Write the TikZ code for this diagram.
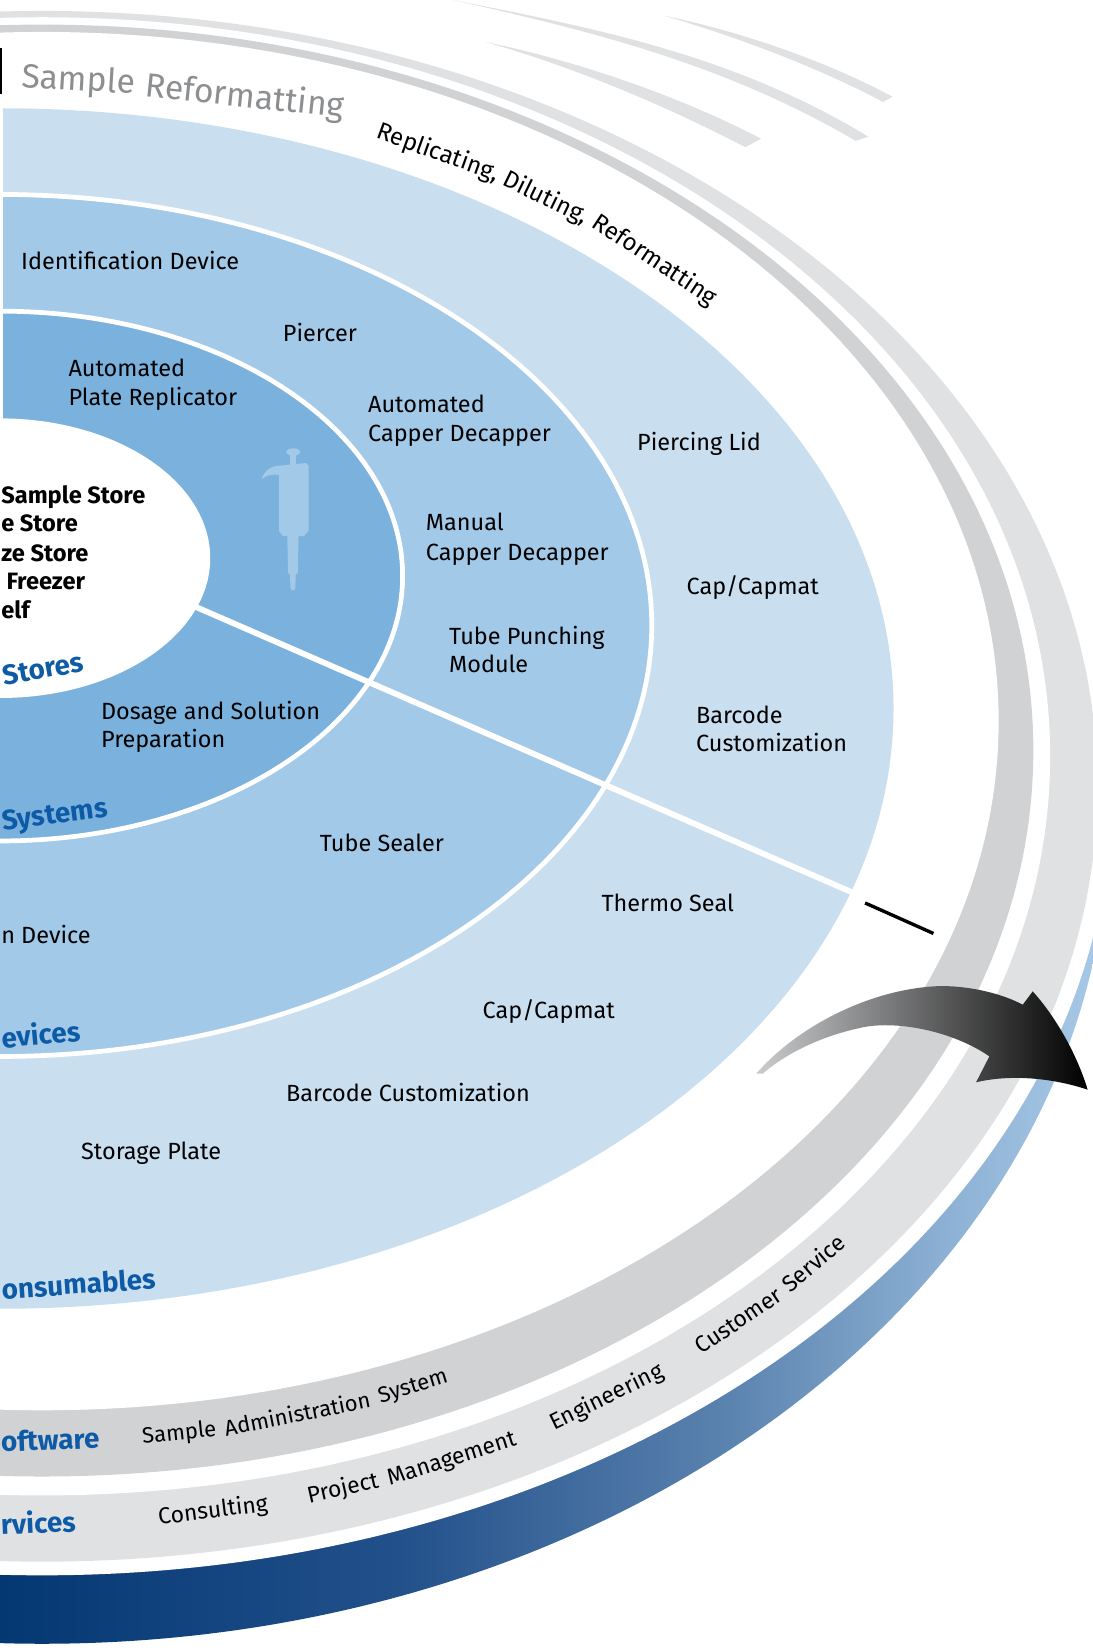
\documentclass[tikz,border=0pt]{standalone}
\usepackage{fontspec}
\setmainfont{Fira Sans}
\definecolor{sysC}{HTML}{7BB1DD}
\definecolor{devC}{HTML}{A3C9E8}
\definecolor{conC}{HTML}{C9DFF0}
\definecolor{swC}{HTML}{D1D2D4}
\definecolor{svC}{HTML}{E0E1E3}
\definecolor{lblue}{HTML}{0D5AA6}
\definecolor{gtext}{HTML}{8C8E90}
\definecolor{bbA}{HTML}{043873}
\definecolor{bbB}{HTML}{22508A}
\definecolor{bbC}{HTML}{5C84B0}
\definecolor{bbD}{HTML}{8DB1D4}
\definecolor{bbE}{HTML}{A6C8E6}
\definecolor{arL}{HTML}{CBCCCE}
\definecolor{arM}{HTML}{86878A}
\pgfdeclarehorizontalshading{bband}{100bp}{color(0bp)=(bbA); color(25bp)=(bbA); color(43.3bp)=(bbB); color(58.6bp)=(bbC); color(68.3bp)=(bbD); color(75bp)=(bbE); color(100bp)=(bbE)}
\begin{document}
\begin{tikzpicture}[x=1pt,y=-1pt,
  lbl/.style={anchor=base west, inner sep=0pt, font=\fontsize{22.3}{27}\selectfont},
  boldlbl/.style={anchor=base west, inner sep=0pt, font=\bfseries\fontsize{22.5}{27}\selectfont},
  blbl/.style={anchor=base west, inner sep=0pt, text=lblue, font=\bfseries\fontsize{26.5}{32}\selectfont},
  grayw/.style={anchor=base, inner sep=0pt, text=gtext, font=\fontsize{32}{38}\selectfont},
  repw/.style={anchor=base, inner sep=0pt, font=\fontsize{23}{28}\selectfont},
  swword/.style={anchor=base, inner sep=0pt, font=\fontsize{21}{26}\selectfont},
  svword/.style={anchor=base, inner sep=0pt, font=\fontsize{21.8}{26}\selectfont},
  gapline/.style={draw=white, line width=4.5},
  streak/.style={fill=svC},
]
\useasboundingbox (0,0) rectangle (1039.7,1570.6);
\clip (0,0) rectangle (1039.7,1570.6);

% ---- blue base band
\begin{scope}
  \clip (-100,600) rectangle (1100,1700);
  \clip (40,780) ellipse [x radius=1015, y radius=783.7];
  \shade[shading=bband] (0,600) rectangle (1039.7,1600);
\end{scope}
\fill[white] (40,750) ellipse [x radius=1018, y radius=748.6];
% ---- services and software rings
\fill[svC] (40,748) ellipse [x radius=1004, y radius=737.6];
\fill[white] (40,719.5) ellipse [x radius=959, y radius=703.1];
\fill[swC] (40,714) ellipse [x radius=943, y radius=690.6];
\fill[white] (40,686) ellipse [x radius=910, y radius=655.6];

% ---- streaks
\fill[streak] (431,0) .. controls (561,26) and (696,51) .. (826,130) -- (814,134) .. controls (688,60) and (559,29) .. (431,0) -- cycle;
\fill[streak] (632,15) .. controls (700,29) and (782,56) .. (849,92) -- (840,97) .. controls (776,63) and (700,35) .. (632,15) -- cycle;
\fill[streak] (462,40) .. controls (540,56) and (640,88) .. (724,132) -- (709,140) .. controls (628,98) and (543,63) .. (462,40) -- cycle;

% ---- inner rings
\fill[conC] (0,674) ellipse [x radius=850, y radius=571];
\fill[devC] (0,595) ellipse [x radius=620, y radius=410];
\draw[gapline] (0,595) ellipse [x radius=620, y radius=410];
\fill[sysC] (0,548) ellipse [x radius=383, y radius=252];
\draw[gapline] (0,548) ellipse [x radius=383, y radius=252];
\fill[white] (0,531) ellipse [x radius=200, y radius=133];

% ---- section dividers
\coordinate (dA) at (150,561.6);
\coordinate (dB) at (810,848.6);
\coordinate (tA) at (823,859);
\coordinate (tB) at (888,888);
\coordinate (uA) at (0,420);
\coordinate (uB) at (0,98);
\coordinate (vA) at (0,46);
\coordinate (vB) at (0,89);
\draw[white, line width=5.5] (dA) -- (dB);
\draw[white, line width=6.6] (uA) -- (uB);
\draw[black, line width=3.2] (tA) -- (tB);
\draw[black, line width=3.4] (vA) -- (vB);

% ---- pipette
\fill[devC] (279,430) ellipse [x radius=6.5, y radius=3.5];
\fill[devC] (276.2,431) rectangle (281.8,445);
\fill[devC] (266,443) .. controls (258,443) and (251,448) .. (249,456) .. controls (253,452) and (259,450.5) .. (265.5,452) -- (265.5,505) -- (269,510) -- (289,510) -- (293.5,505) -- (293.5,443) -- (291,440.5) -- cycle;
\fill[devC] (273.3,509) -- (284,509) -- (283.3,545) -- (281.3,547) -- (281,559) .. controls (281,562.5) and (276.2,562.5) .. (276.2,559) -- (276,547) -- (274,545) -- cycle;

% ---- labels in rings
\node[lbl] (idd) at (20,256) {Identification Device};
\node[lbl] (pier) at (269,325) {Piercer};
\node[lbl] (apr1) at (65,358) {Automated};
\node[lbl] (apr2) at (65,386) {Plate Replicator};
\node[lbl] (acd1) at (350,392) {Automated};
\node[lbl] (acd2) at (350,420) {Capper Decapper};
\node[lbl] (mcd1) at (405,505) {Manual};
\node[lbl] (mcd2) at (405,533) {Capper Decapper};
\node[lbl] (tpm1) at (427,613) {Tube Punching};
\node[lbl] (tpm2) at (427,640) {Module};
\node[lbl] (plid) at (606,429) {Piercing Lid};
\node[lbl] (cap1) at (653,566) {Cap/Capmat};
\node[lbl] (bc1) at (662,688) {Barcode};
\node[lbl] (bc2) at (662,715) {Customization};
\node[lbl] (dsp1) at (96,684) {Dosage and Solution};
\node[lbl] (dsp2) at (96,711) {Preparation};
\node[lbl] (tsl) at (304,810) {Tube Sealer};
\node[lbl] (tms) at (572,867) {Thermo Seal};
\node[lbl] (ndev) at (1,898) {n Device};
\node[lbl] (cap2) at (459,969) {Cap/Capmat};
\node[lbl] (bc3) at (272,1048) {Barcode Customization};
\node[lbl] (stp) at (77,1103) {Storage Plate};

% ---- stores list
\node[boldlbl] (ss1) at (1,479) {Sample Store};
\node[boldlbl] (ss2) at (1,506) {e Store};
\node[boldlbl] (ss3) at (1,534) {ze Store};
\node[boldlbl] (ss4) at (6,561) {Freezer};
\node[boldlbl] (ss5) at (1,588) {elf};

% ---- blue section titles
\node[blbl, rotate=10] (lstores) at (4,652) {Stores};
\node[blbl, rotate=7.5] (lsys) at (3,790) {Systems};
\node[blbl, rotate=5] (ldev) at (2,997) {evices};
\node[blbl, rotate=4] (lcons) at (2,1236) {onsumables};
\node[blbl, rotate=2] (lsoft) at (1,1381) {oftware};
\node[blbl, rotate=2.5] (lserv) at (1,1460) {rvices};

% ---- curved texts, word by word along the rings
\node[grayw, rotate=-3.4] (sr1) at (74,86) {Sample};
\node[grayw, rotate=-6] (sr2) at (232,102) {Reformatting};

\node[repw, rotate={-atan2(592*cos(-61.9),-880*sin(-61.9))}] (rp1) at ({880*cos(-61.9)},{674+592*sin(-61.9)}) {Replicating,};
\node[repw, rotate={-atan2(592*cos(-54.1),-880*sin(-54.1))}] (rp2) at ({880*cos(-54.1)},{674+592*sin(-54.1)}) {Diluting,};
\node[repw, rotate={-atan2(592*cos(-45.3),-880*sin(-45.3))}] (rp3) at ({880*cos(-45.3)},{674+592*sin(-45.3)}) {Reformatting};

\node[swword, rotate={atan2(676.6*cos(81.86),926*sin(81.86))}] (sa1) at ({40+926*cos(81.86)},{700+676.6*sin(81.86)}) {Sample};
\node[swword, rotate={atan2(676.6*cos(74.70),926*sin(74.70))}] (sa2) at ({40+926*cos(74.70)},{700+676.6*sin(74.70)}) {Administration};
\node[swword, rotate={atan2(676.6*cos(67.48),926*sin(67.48))}] (sa3) at ({40+926*cos(67.48)},{700+676.6*sin(67.48)}) {System};

\node[svword, rotate={atan2(720*cos(80.41),981*sin(80.41))}] (cons) at ({40+981*cos(80.41)},{734+720*sin(80.41)}) {Consulting};
\node[svword, rotate={atan2(720*cos(72.95),981*sin(72.95))}] (pm1) at ({40+981*cos(72.95)},{734+720*sin(72.95)}) {Project};
\node[svword, rotate={atan2(720*cos(66.47),981*sin(66.47))}] (pm2) at ({40+981*cos(66.47)},{734+720*sin(66.47)}) {Management};
\node[svword, rotate={atan2(720*cos(56.62),981*sin(56.62))}] (eng) at ({40+981*cos(56.62)},{734+720*sin(56.62)}) {Engineering};
\node[svword, rotate={atan2(720*cos(47.19),981*sin(47.19))}] (cs1) at ({40+981*cos(47.19)},{734+720*sin(47.19)}) {Customer};
\node[svword, rotate={atan2(720*cos(41.13),981*sin(41.13))}] (cs2) at ({40+981*cos(41.13)},{734+720*sin(41.13)}) {Service};

% ---- arrow
\shade[left color=arL, middle color=arM, right color=black] (719.3,1021.4) .. controls (760,975) and (830,940) .. (895,938) .. controls (925,938) and (955,946) .. (972.9,955.8) -- (982.4,943.1) .. controls (998,960) and (1022,995) .. (1034.7,1036.6) .. controls (1000,1025) and (960,1022) .. (928.5,1029.6) -- (941.2,1004.9) .. controls (905,980) and (850,970) .. (817.6,978) .. controls (785,985) and (750,1000) .. (725.6,1021.4) -- cycle;
\end{tikzpicture}
\end{document}
